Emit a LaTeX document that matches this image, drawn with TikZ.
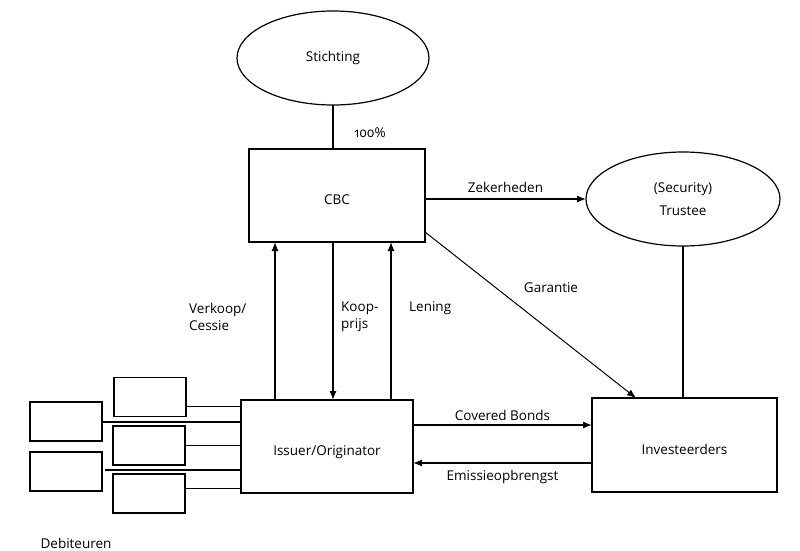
\documentclass[tikz,border=0pt]{standalone}
\usepackage{fontspec}
\setmainfont{Open Sans}[Numbers=OldStyle]
\usetikzlibrary{shapes.geometric,arrows.meta,calc}
\begin{document}
\begin{tikzpicture}[x=1pt,y=-1pt,
  font=\fontsize{13.5}{16.5}\selectfont,
  box/.style={draw,line width=1.6pt,inner sep=0,outer sep=0,rectangle,text height=21pt,text depth=3pt},
  sbox/.style={draw,line width=1.6pt,inner sep=0,outer sep=0,rectangle,minimum width=72pt,minimum height=39pt},
  oval/.style={draw,line width=1.2pt,ellipse,inner sep=0,outer sep=0,align=center},
  con/.style={line width=1.3pt},
  arr/.style={line width=1.3pt,-{Latex[length=9pt,width=7pt]}},
  lab/.style={inner sep=0,align=left,anchor=west}]
\useasboundingbox (0,0) rectangle (800,551);
% main nodes
\node[oval,minimum width=192pt,minimum height=94pt] (st) at (333,58) {Stichting};
\node[oval,minimum width=194pt,minimum height=94pt,font=\fontsize{13.5}{23}\selectfont] (tr) at (683,199) {(Security)\\Trustee};
\node[box,minimum width=176pt,minimum height=93pt] (cbc) at (337,195.5) {CBC};
\node[box,minimum width=172pt,minimum height=93pt] (iss) at (327,446.5) {Issuer/Originator};
\node[box,minimum width=185pt,minimum height=94pt] (inv) at (684.5,445) {Investeerders};
% debtor boxes
\node[sbox] (d1) at (150,397) {};
\node[sbox] (d2) at (149,445.5) {};
\node[sbox] (d3) at (149,493.5) {};
\node[sbox] (l1) at (66,421.5) {};
\node[sbox] (l2) at (66,471.5) {};
\node[inner sep=0] (deb) at (76,543.5) {Debiteuren};
% helper coordinates
\coordinate (v1) at (275,0);
\coordinate (v2) at (333,0);
\coordinate (v3) at (391,0);
\coordinate (h1) at (0,425);
\coordinate (h2) at (0,463);
% connectors
\draw[con] (st.south) -- (st.south |- cbc.north);
\node[inner sep=0] (pct) at (370,133) {100\%};
\draw[arr] (cbc.east |- tr.west) -- (tr.west) node[midway,above=6pt,inner sep=0] (zek) {Zekerheden};
\draw[con] (tr.south) -- (tr.south |- inv.north);
\draw[arr,line width=1pt] ($(cbc.south east)+(0,-10)$) -- ($(inv.north west)+(44,0)$);
\node[inner sep=0] (gar) at (551,288) {Garantie};
\draw[arr] (iss.north -| v1) -- (cbc.south -| v1);
\draw[arr] (cbc.south -| v2) -- (iss.north -| v2);
\draw[arr] (iss.north -| v3) -- (cbc.south -| v3);
\node[lab] (verk) at (189,317) {Verkoop/\\Cessie};
\node[lab] (koop) at (341,317) {Koop-\\prijs};
\node[lab] (len) at (409,308) {Lening};
\draw[arr] (iss.east |- h1) -- (inv.west |- h1) node[midway,above=4pt,inner sep=0] (cb) {Covered Bonds};
\draw[arr] (inv.west |- h2) -- (iss.east |- h2) node[midway,below=7pt,inner sep=0] (em) {Emissieopbrengst};
% debtor lines
\draw[line width=0.9pt] ($(d1.east)+(0,9)$) -- (iss.west |- {$(d1.east)+(0,9)$});
\draw[line width=0.9pt] (d2.east) -- (iss.west |- d2.east);
\draw[line width=0.9pt] ($(d3.east)+(0,-5.5)$) -- (iss.west |- {$(d3.east)+(0,-5.5)$});
\draw[line width=2pt] (l1.east) -- (iss.west |- l1.east);
\draw[line width=2pt] ($(l2.east)+(3,-1.5)$) -- (iss.west |- {$(l2.east)+(0,-1.5)$});
\end{tikzpicture}
\end{document}
